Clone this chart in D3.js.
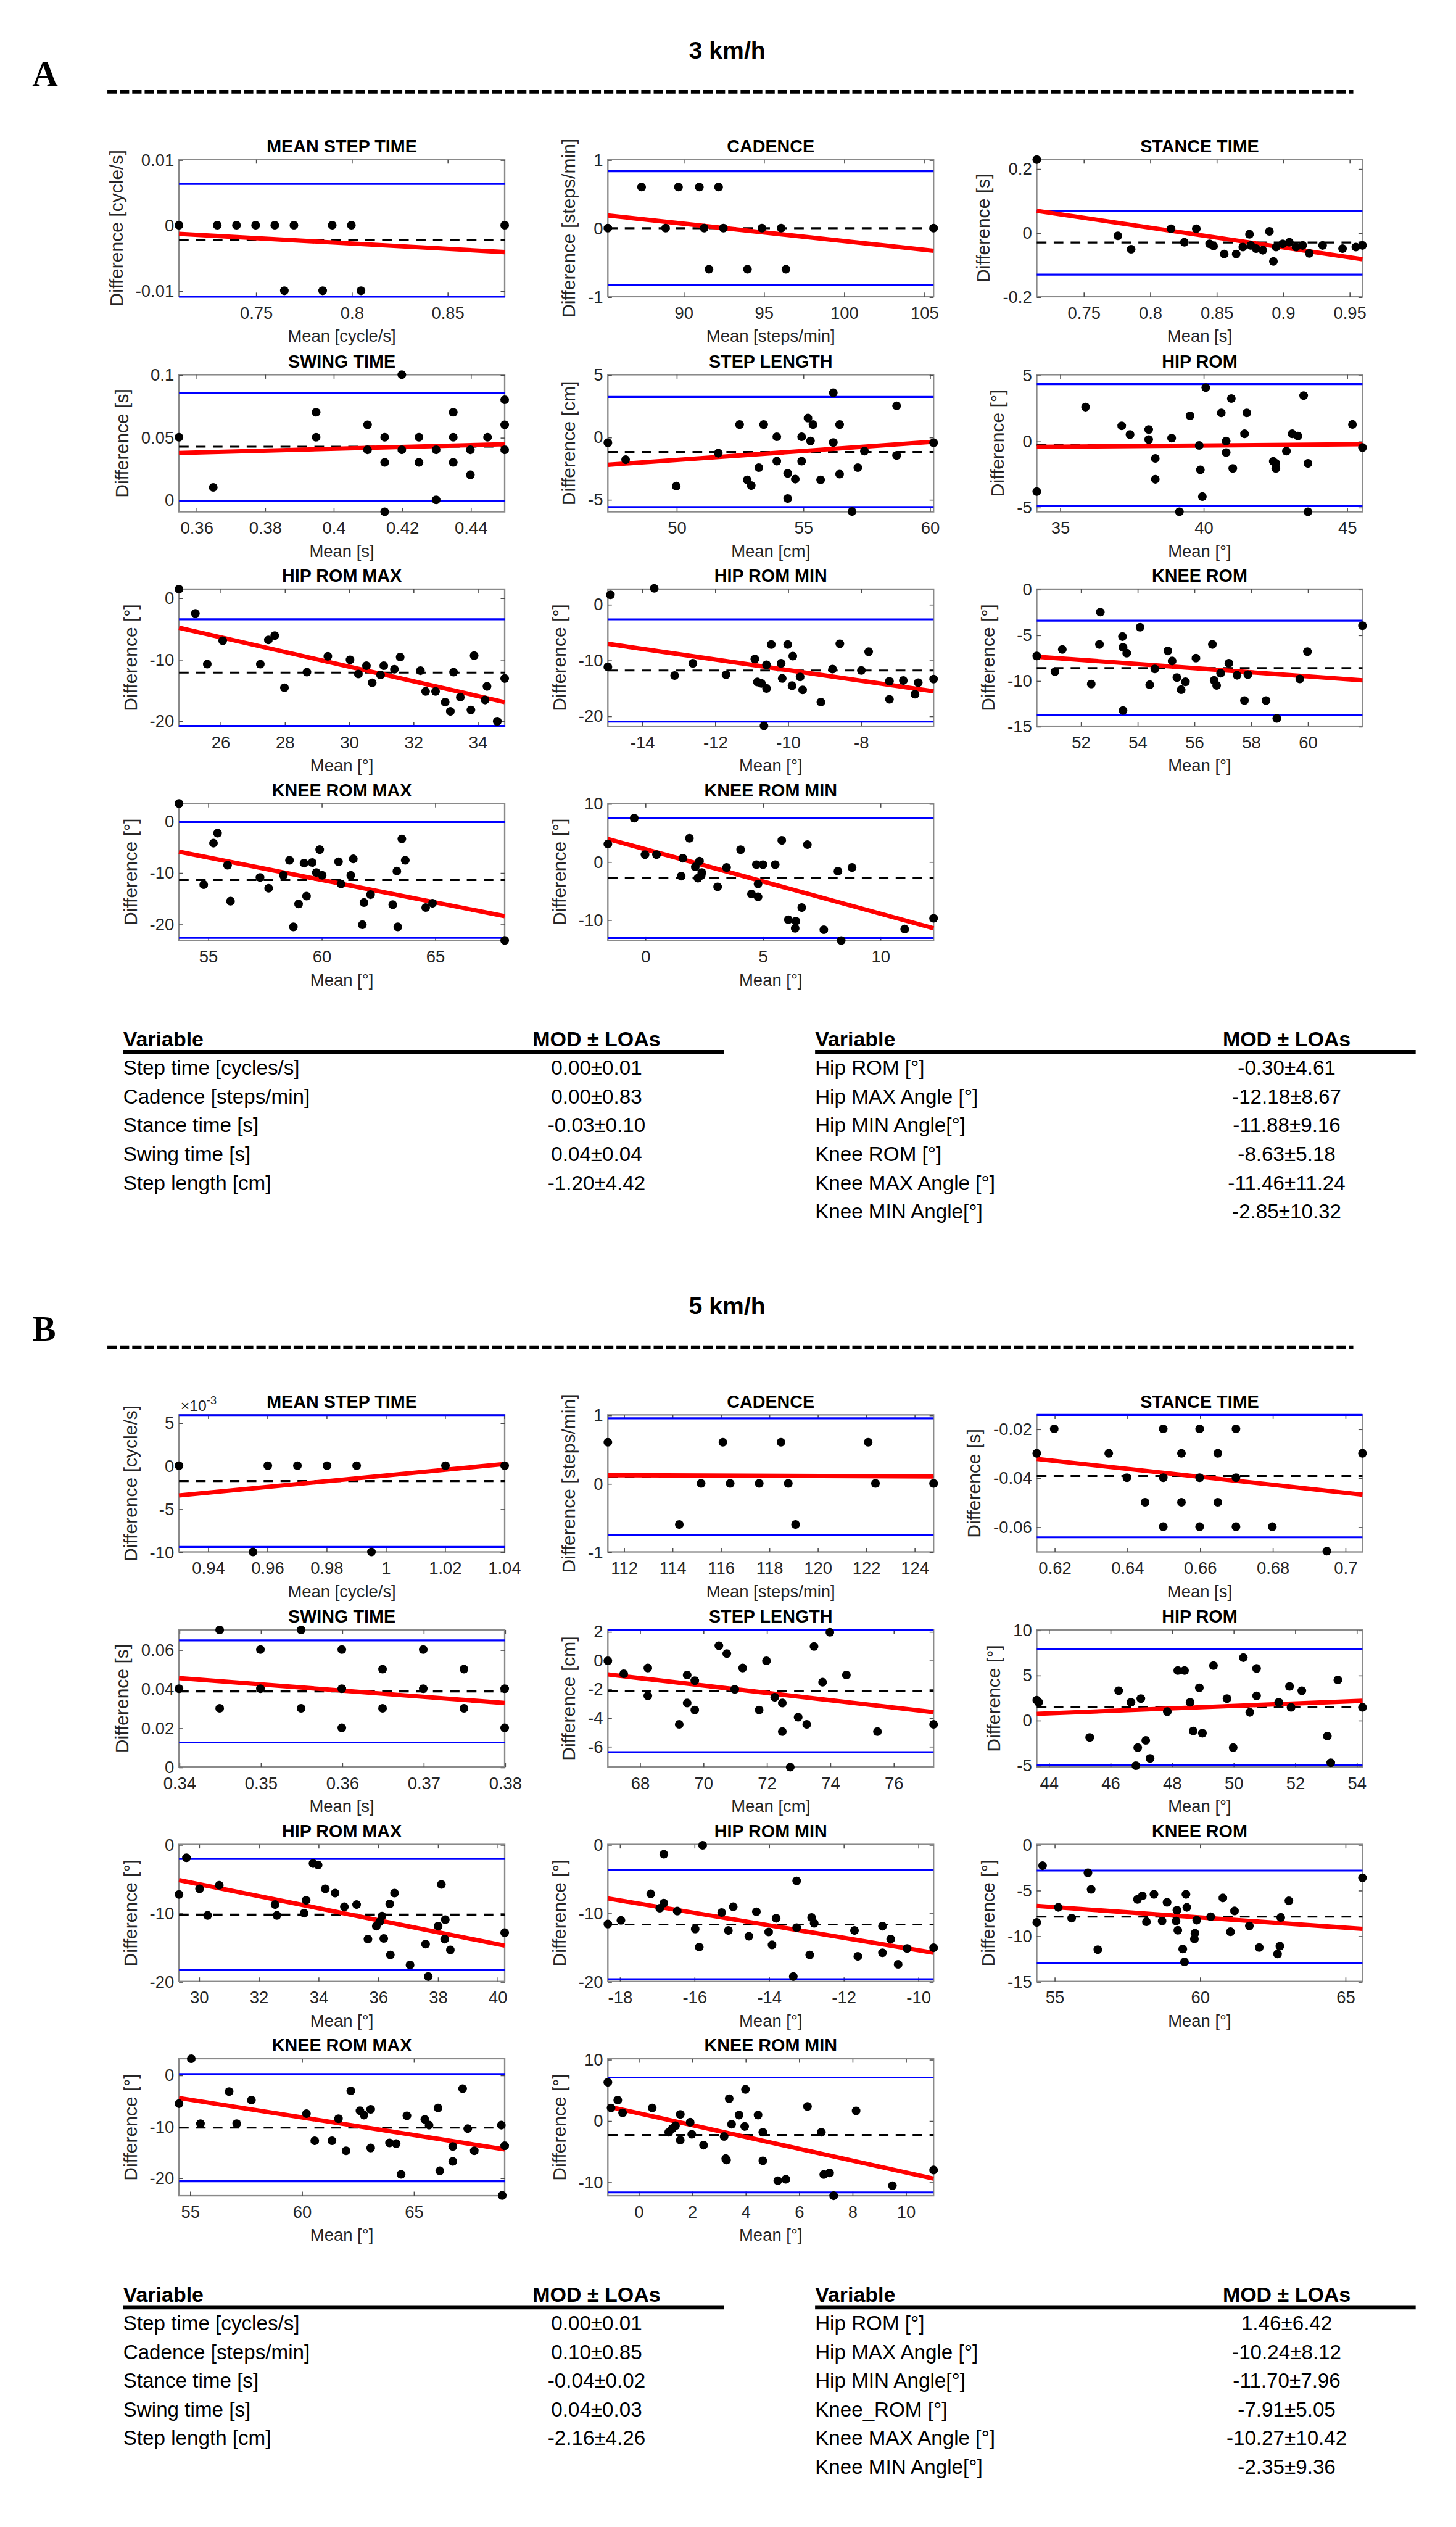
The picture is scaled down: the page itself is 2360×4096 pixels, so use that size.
<!DOCTYPE html>
<html>
<head>
<meta charset="utf-8">
<script src="https://cdn.jsdelivr.net/npm/d3@7.9.0/dist/d3.min.js"></script>
<style>
  html, body { margin: 0; padding: 0; background: #fff; }
  svg { display: block; }
  text { font-family: "Liberation Sans", Arial, Helvetica, sans-serif; }
</style>
</head>
<body>
<svg id="fig"></svg>
<script>
// ---------- shared labels ----------
const titles = ['MEAN STEP TIME', 'CADENCE', 'STANCE TIME', 'SWING TIME', 'STEP LENGTH', 'HIP ROM',
  'HIP ROM MAX', 'HIP ROM MIN', 'KNEE ROM', 'KNEE ROM MAX', 'KNEE ROM MIN'];
const xLabels = ['Mean [cycle/s]', 'Mean [steps/min]', 'Mean [s]', 'Mean [s]', 'Mean [cm]', 'Mean [°]',
  'Mean [°]', 'Mean [°]', 'Mean [°]', 'Mean [°]', 'Mean [°]'];
const yLabels = ['Difference [cycle/s]', 'Difference [steps/min]', 'Difference [s]', 'Difference [s]', 'Difference [cm]', 'Difference [°]',
  'Difference [°]', 'Difference [°]', 'Difference [°]', 'Difference [°]', 'Difference [°]'];

// ---------- 3 km/h : points [mean, difference] ----------
const ptsA1 = [[0.71,0],[0.73,0],[0.74,0],[0.75,0],[0.76,0],[0.77,0],[0.79,0],[0.80,0],[0.88,0],[0.765,-0.01],[0.785,-0.01],[0.805,-0.01]];
const ptsA2 = [[87.4,0.6],[89.7,0.6],[91.0,0.6],[92.2,0.6],[85.3,0],[88.9,0],[91.3,0],[92.5,0],[94.9,0],[96.1,0],[105.6,0],[91.6,-0.6],[94.0,-0.6],[96.4,-0.6]];
const ptsA3 = [[0.715,0.228],[0.776,-0.01],[0.786,-0.052],[0.816,0.012],[0.826,-0.03],[0.835,0.012],[0.845,-0.035],[0.848,-0.042],[0.856,-0.067],[0.865,-0.067],[0.87,-0.045],[0.875,-0.005],[0.876,-0.04],[0.88,-0.05],[0.885,-0.055],[0.89,0.004],[0.893,-0.09],[0.895,-0.045],[0.9,-0.035],[0.905,-0.03],[0.91,-0.045],[0.915,-0.04],[0.92,-0.065],[0.93,-0.04],[0.945,-0.05],[0.955,-0.045],[0.96,-0.04]];
const ptsA4 = [[0.355,0.05],[0.365,0.01],[0.395,0.07],[0.395,0.05],[0.41,0.06],[0.41,0.04],[0.415,0.05],[0.415,0.03],[0.415,-0.0095],[0.42,0.1],[0.42,0.04],[0.425,0.05],[0.425,0.03],[0.43,0.04],[0.43,0.0],[0.435,0.07],[0.435,0.05],[0.435,0.03],[0.44,0.04],[0.44,0.02],[0.445,0.05],[0.45,0.08],[0.45,0.06],[0.45,0.04]];
const ptsA5 = [[47.3,-0.46],[48.0,-1.82],[50.0,-3.94],[51.66,-1.3],[52.5,1.0],[52.8,-3.44],[52.96,-3.9],[53.26,-2.46],[53.45,1.0],[53.97,0.02],[53.97,-1.94],[54.4,-2.92],[54.4,-4.94],[54.7,-3.38],[54.95,0.02],[54.95,-1.94],[55.2,1.52],[55.3,-0.32],[55.4,1.0],[55.7,-3.44],[56.2,3.55],[56.2,-0.44],[56.45,1.0],[56.45,-2.98],[56.94,-5.98],[57.17,-2.46],[57.43,-1.13],[58.7,2.5],[58.7,-1.48],[60.16,-0.46]];
const ptsA6 = [[34.2,-3.82],[35.9,2.57],[37.16,1.15],[37.45,0.49],[38.1,0.87],[38.1,0.11],[38.33,-1.31],[38.33,-2.89],[38.9,0.22],[39.17,-5.35],[39.54,1.91],[39.86,-0.33],[39.9,-2.18],[39.97,-4.2],[40.09,4.04],[40.63,2.13],[40.8,0],[40.8,-0.87],[40.98,3.22],[41.03,-2.07],[41.44,0.55],[41.52,2.13],[42.44,-1.53],[42.53,-1.69],[42.53,-2.07],[42.9,-0.76],[43.1,0.55],[43.3,0.38],[43.5,3.44],[43.65,-1.69],[43.65,-5.35],[45.2,1.26],[45.55,-0.49]];
const ptsA7 = [[24.72,1.4],[25.23,-2.56],[25.6,-10.8],[26.08,-6.98],[27.25,-10.8],[27.5,-6.86],[27.7,-6.16],[28.0,-14.65],[28.7,-12.1],[29.35,-9.53],[30.04,-10.1],[30.3,-12.4],[30.55,-11.05],[30.73,-13.84],[30.99,-12.56],[31.09,-11.05],[31.42,-11.63],[31.6,-9.65],[32.23,-11.86],[32.39,-15.23],[32.7,-15.23],[33.0,-16.98],[33.16,-18.49],[33.26,-12.1],[33.47,-16.16],[33.8,-18.26],[33.9,-9.42],[34.24,-16.63],[34.3,-14.42],[34.62,-20.1],[34.85,-13.14]];
const ptsA8 = [[-14.93,-11.23],[-14.86,1.67],[-13.66,2.83],[-13.1,-12.78],[-12.6,-10.59],[-11.69,-12.65],[-10.9,-9.82],[-10.83,-13.94],[-10.72,-14.2],[-10.58,-10.85],[-10.58,-15.1],[-10.45,-7.23],[-10.18,-10.59],[-10.15,-13.3],[-10.0,-7.23],[-9.86,-9.3],[-9.88,-14.6],[-9.66,-13.04],[-9.59,-15.36],[-9.09,-17.55],[-8.77,-11.62],[-8.57,-7.1],[-7.98,-11.88],[-7.78,-8.52],[-7.21,-13.81],[-7.21,-17.04],[-6.83,-13.68],[-6.51,-16.13],[-6.42,-14.07],[-6.0,-13.42],[-10.65,-21.8]];
const ptsA9 = [[50.46,-7.31],[51.1,-9.04],[51.36,-6.6],[52.38,-10.38],[52.7,-2.52],[52.67,-6.05],[53.48,-5.19],[53.5,-6.37],[53.63,-7.0],[53.5,-13.29],[54.1,-4.17],[54.44,-10.46],[54.62,-8.73],[55.08,-6.76],[55.23,-7.86],[55.4,-9.67],[55.55,-11.0],[55.7,-10.14],[56.07,-7.55],[56.65,-6.05],[56.71,-9.98],[56.8,-10.53],[56.94,-9.2],[57.23,-8.1],[57.52,-9.43],[57.78,-12.19],[57.9,-9.36],[58.54,-12.19],[58.92,-14.15],[59.73,-9.83],[60.0,-6.84],[61.94,-4.0]];
const ptsA10 = [[53.73,3.39],[54.82,-12.36],[55.25,-4.3],[55.43,-2.36],[55.87,-8.6],[56.0,-15.56],[57.3,-10.97],[57.68,-13.05],[58.33,-10.55],[58.6,-7.64],[58.77,-20.56],[59.0,-16.1],[59.24,-8.19],[59.35,-14.58],[59.6,-8.06],[59.78,-10.0],[59.93,-5.56],[60.04,-10.55],[60.76,-7.92],[60.87,-12.22],[61.3,-10.55],[61.41,-7.36],[61.81,-20.14],[61.88,-15.83],[62.17,-14.3],[63.15,-16.25],[63.33,-9.72],[63.37,-20.56],[63.55,-3.47],[63.7,-7.64],[64.6,-16.8],[64.9,-15.97],[68.08,-23.19]];
const ptsA11 = [[-1.58,3.03],[-0.46,7.46],[0,1.18],[0.49,1.18],[1.61,0.57],[1.54,-2.51],[1.89,4.01],[2.14,-0.91],[2.32,0.07],[2.39,-2.39],[2.25,-2.88],[2.42,-1.9],[3.09,-4.36],[3.47,-1.03],[4.07,2.04],[4.53,-5.59],[4.74,-0.54],[4.81,-3.87],[4.81,-6.08],[5.02,-0.54],[5.54,-0.54],[5.82,3.65],[6.1,-10.02],[6.42,-10.27],[6.39,-11.5],[6.67,-7.93],[6.91,2.91],[7.61,-11.75],[8.21,-1.65],[8.35,-13.6],[8.81,-1.03],[11.05,-11.63],[12.28,-9.78]];

const aPoints = [ptsA1, ptsA2, ptsA3, ptsA4, ptsA5, ptsA6, ptsA7, ptsA8, ptsA9, ptsA10, ptsA11];
const aXTicks = [[0.75,0.8,0.85],[90,95,100,105],[0.75,0.8,0.85,0.9,0.95],[0.36,0.38,0.4,0.42,0.44],[50,55,60],[35,40,45],
  [26,28,30,32,34],[-14,-12,-10,-8],[52,54,56,58,60],[55,60,65],[0,5,10]];
const aYTicks = [[-0.01,0,0.01],[-1,0,1],[-0.2,0,0.2],[0,0.05,0.1],[-5,0,5],[-5,0,5],
  [-20,-10,0],[-20,-10,0],[-15,-10,-5,0],[-20,-10,0],[-10,0,10]];
const aYDomain = [[-0.0109,0.01],[-1,1],[-0.2,0.228],[-0.0095,0.1],[-6,5],[-5.35,5.02],
  [-20.9,1.4],[-21.87,2.7],[-15,0],[-23.2,3.4],[-13.6,10]];
// [mean difference, upper LOA, lower LOA]
const aLines = [[-0.0023,0.0063,-0.0109],[0,0.83,-0.83],[-0.031,0.068,-0.131],[0.0425,0.0852,-0.0008],[-1.20,3.22,-5.62],[-0.30,4.31,-4.91],
  [-12.18,-3.51,-20.85],[-11.88,-2.72,-21.04],[-8.63,-3.45,-13.81],[-11.46,-0.22,-22.70],[-2.85,7.47,-13.17]];
// regression line value at left and right end of the x range
const aFit = [[-0.00132,-0.0041],[0.185,-0.33],[0.068,-0.083],[0.0375,0.0445],[-2.23,-0.38],[-0.44,-0.24],
  [-4.88,-16.98],[-7.1,-15.62],[-7.39,-9.98],[-5.97,-18.47],[3.89,-11.5]];
const aExp = [0,0,0,0,0,0,0,0,0,0,0];

// ---------- 5 km/h ----------
const ptsB1 = [[0.9303,0],[0.9553,-0.01],[0.9603,0],[0.9703,0],[0.9803,0],[0.9903,0],[0.9953,-0.01],[1.0203,0],[1.0403,0]];
const ptsB2 = [[111.35,0.6],[114.3,-0.6],[115.2,0],[116.1,0.6],[116.4,0],[117.6,0],[118.5,0.6],[118.8,0],[119.1,-0.6],[122.1,0.6],[122.4,0],[124.8,0]];
const ptsB3 = [[0.62,-0.02],[0.65,-0.02],[0.66,-0.02],[0.67,-0.02],[0.6152,-0.03],[0.635,-0.03],[0.655,-0.03],[0.665,-0.03],[0.7048,-0.03],[0.64,-0.04],[0.65,-0.04],[0.66,-0.04],[0.67,-0.04],[0.645,-0.05],[0.655,-0.05],[0.665,-0.05],[0.65,-0.06],[0.66,-0.06],[0.67,-0.06],[0.68,-0.06],[0.695,-0.07]];
const ptsB4 = [[0.345,0.07],[0.355,0.07],[0.35,0.06],[0.36,0.06],[0.37,0.06],[0.365,0.05],[0.375,0.05],[0.34,0.04],[0.35,0.04],[0.36,0.04],[0.37,0.04],[0.38,0.04],[0.345,0.03],[0.355,0.03],[0.365,0.03],[0.375,0.03],[0.36,0.02],[0.38,0.02]];
const ptsB5 = [[67.0,-0.05],[67.5,-0.95],[68.26,-0.55],[68.26,-2.49],[69.25,-4.48],[69.5,-1.04],[69.5,-2.99],[69.74,-1.44],[69.74,-3.48],[70.5,1.0],[70.75,0.45],[71.0,-2.04],[71.25,-0.55],[71.77,-3.48],[72.0,-0.05],[72.26,-2.59],[72.5,-2.99],[72.5,-4.98],[72.75,-7.46],[73.0,-3.98],[73.27,-4.48],[73.5,0.95],[73.77,-1.54],[74.0,1.94],[74.52,-1.04],[75.5,-4.98],[77.27,-4.48]];
const ptsB6 = [[43.62,2.22],[43.68,1.98],[45.34,-1.93],[46.28,3.26],[46.68,1.98],[46.9,-3.05],[46.84,-5.05],[47.0,2.38],[47.16,-2.25],[47.3,-4.25],[47.86,0.94],[48.2,5.5],[48.42,5.5],[48.6,1.98],[48.7,-1.21],[48.9,3.58],[49.0,-1.45],[49.36,6.05],[49.8,2.38],[50.0,-3.05],[50.33,6.93],[50.54,0.86],[50.76,2.7],[50.76,5.73],[51.48,1.98],[51.83,3.74],[51.88,1.42],[52.23,3.26],[53.06,-1.77],[53.17,-4.73],[53.4,4.46],[54.2,1.42]];
const ptsB7 = [[29.34,-7.31],[29.59,-1.95],[30.03,-6.47],[30.3,-10.36],[30.69,-5.95],[32.56,-8.78],[32.62,-10.36],[33.53,-10.04],[33.6,-8.15],[33.83,-2.79],[34.0,-3.0],[34.24,-6.47],[34.57,-7.1],[34.88,-9.1],[35.29,-8.78],[35.67,-13.82],[35.95,-11.93],[36.06,-11.3],[36.14,-10.46],[36.2,-13.72],[36.4,-8.68],[36.42,-16.13],[36.56,-7.1],[37.08,-17.6],[37.6,-14.56],[37.69,-19.29],[38.02,-11.93],[38.13,-5.84],[38.24,-13.82],[38.26,-10.99],[38.43,-15.4],[40.25,-12.88]];
const ptsB8 = [[-18.31,-11.62],[-17.96,-11.09],[-17.16,-7.21],[-16.81,-1.43],[-16.81,-8.57],[-16.92,-9.31],[-16.45,-9.73],[-15.97,-12.35],[-15.86,-14.98],[-15.77,-0.13],[-15.26,-9.94],[-15.08,-12.56],[-14.95,-9.1],[-14.53,-13.4],[-14.33,-9.83],[-14.0,-12.77],[-13.91,-14.66],[-13.8,-10.78],[-13.34,-19.29],[-13.25,-5.32],[-13.25,-12.14],[-12.9,-16.13],[-12.85,-10.67],[-12.78,-11.51],[-11.7,-12.56],[-11.61,-16.34],[-10.95,-15.82],[-10.95,-11.93],[-10.73,-13.82],[-10.53,-17.5],[-10.29,-15.19],[-9.58,-15.08]];
const ptsB9 = [[54.4,-8.54],[54.6,-2.33],[55.14,-6.89],[55.6,-8.07],[56.16,-3.11],[56.27,-4.92],[56.5,-11.53],[57.86,-6.02],[58.03,-5.63],[58.17,-8.46],[58.43,-5.47],[58.71,-8.38],[58.88,-6.34],[59.19,-8.38],[59.22,-7.2],[59.25,-9.4],[59.42,-11.45],[59.48,-12.86],[59.53,-5.47],[59.56,-6.89],[59.82,-10.35],[59.84,-9.72],[59.9,-8.3],[60.38,-7.91],[60.8,-5.86],[61.06,-9.56],[61.2,-7.28],[61.71,-8.93],[62.05,-11.29],[62.68,-12.0],[62.76,-11.13],[62.79,-7.99],[63.07,-6.18],[65.6,-3.66]];
const ptsB10 = [[54.52,-5.6],[55.07,3.14],[55.48,-9.49],[56.76,-3.24],[57.1,-9.49],[57.76,-4.9],[60.22,-7.54],[60.59,-12.82],[61.36,-12.82],[61.65,-8.52],[61.99,-14.77],[62.2,-3.1],[62.61,-6.98],[62.79,-7.82],[63.09,-6.71],[63.09,-14.21],[63.93,-13.23],[64.23,-13.37],[64.45,-19.35],[64.71,-7.96],[65.51,-8.66],[65.7,-9.77],[66.1,-6.43],[66.18,-18.65],[66.76,-16.84],[66.76,-13.93],[67.2,-2.68],[67.43,-10.46],[67.72,-14.77],[68.93,-9.77],[69.08,-13.79],[68.97,-23.45]];
const ptsB11 = [[-1.14,6.24],[-1.02,2.06],[-0.77,3.33],[-0.59,1.25],[0.52,2.06],[1.14,-1.92],[1.27,-1.31],[1.39,-0.85],[1.57,1.0],[1.57,-3.2],[1.94,-0.27],[2.0,-2.24],[2.44,-4.01],[3.27,-6.2],[3.3,-6.43],[3.4,3.57],[3.49,-0.61],[3.21,-2.59],[3.77,0.89],[3.98,-0.97],[4.01,5.08],[4.48,0.89],[4.66,-1.92],[4.66,-6.56],[5.22,-9.8],[5.52,-9.57],[6.33,2.29],[6.85,-1.92],[6.94,-8.79],[7.16,-8.53],[7.31,-12.25],[8.15,1.58],[9.51,-10.62],[11.05,-8.06]];

const bPoints = [ptsB1, ptsB2, ptsB3, ptsB4, ptsB5, ptsB6, ptsB7, ptsB8, ptsB9, ptsB10, ptsB11];
const bXTicks = [[0.94,0.96,0.98,1,1.02,1.04],[112,114,116,118,120,122,124],[0.62,0.64,0.66,0.68,0.7],[0.34,0.35,0.36,0.37,0.38],[68,70,72,74,76],[44,46,48,50,52,54],
  [30,32,34,36,38,40],[-18,-16,-14,-12,-10],[55,60,65],[55,60,65],[0,2,4,6,8,10]];
const bYTicks = [[-0.01,-0.005,0,0.005],[-1,0,1],[-0.06,-0.04,-0.02],[0,0.02,0.04,0.06],[-6,-4,-2,0,2],[-5,0,5,10],
  [-20,-10,0],[-20,-10,0],[-15,-10,-5,0],[-20,-10,0],[-10,0,10]];
const bYDomain = [[-0.01,0.0059],[-1,1],[-0.0703,-0.0143],[0,0.07],[-7.45,2.1],[-5.2,10],
  [-20,0],[-20,0],[-15,0],[-23.5,3.15],[-12.25,10.08]];
const bLines = [[-0.00178,0.00587,-0.00942],[0.10,0.95,-0.75],[-0.0393,-0.0143,-0.0643],[0.0386,0.0647,0.0125],[-2.16,2.10,-6.42],[1.46,7.88,-4.96],
  [-10.24,-2.12,-18.36],[-11.70,-3.74,-19.66],[-7.91,-2.86,-12.96],[-10.27,0.15,-20.69],[-2.35,7.01,-11.71]];
const bFit = [[-0.00345,0.0002],[0.12,0.10],[-0.0323,-0.0469],[0.0454,0.0327],[-1.0,-3.63],[0.7,2.14],
  [-5.21,-14.77],[-7.88,-15.82],[-6.73,-9.25],[-4.49,-14.49],[2.29,-9.46]];
const bExp = [-3,0,0,0,0,0,0,0,0,0,0];

// ---------- tables ----------
const tableVarsLeft = ['Step time [cycles/s]', 'Cadence [steps/min]', 'Stance time [s]', 'Swing time [s]', 'Step length [cm]'];
const tableVarsRightA = ['Hip ROM [°]', 'Hip MAX Angle [°]', 'Hip MIN Angle[°]', 'Knee ROM [°]', 'Knee MAX Angle [°]', 'Knee MIN Angle[°]'];
const tableVarsRightB = ['Hip ROM [°]', 'Hip MAX Angle [°]', 'Hip MIN Angle[°]', 'Knee_ROM [°]', 'Knee MAX Angle [°]', 'Knee MIN Angle[°]'];
const modLeftA = ['0.00±0.01', '0.00±0.83', '-0.03±0.10', '0.04±0.04', '-1.20±4.42'];
const modRightA = ['-0.30±4.61', '-12.18±8.67', '-11.88±9.16', '-8.63±5.18', '-11.46±11.24', '-2.85±10.32'];
const modLeftB = ['0.00±0.01', '0.10±0.85', '-0.04±0.02', '0.04±0.03', '-2.16±4.26'];
const modRightB = ['1.46±6.42', '-10.24±8.12', '-11.70±7.96', '-7.91±5.05', '-10.27±10.42', '-2.35±9.36'];

// ---------- layout (in units of the 903 px wide preview) ----------
const VW = 903, VH = 903 * 4096 / 2360;
const PW = 202, PH = 85;
const colLeft = [111, 377, 643];
const rowTop = [99, 232.4, 365.4, 498.3];
const SHIFT_B = 778.5;

const svg = d3.select('#fig')
  .attr('width', 2360)
  .attr('height', 4096)
  .attr('viewBox', `0 0 ${VW} ${VH}`);

svg.append('rect').attr('width', VW).attr('height', VH).attr('fill', '#fff');

function fmtNum(d) {
  return String(+d.toFixed(6));
}

function styleAxis(sel) {
  sel.select('.domain').remove();
  sel.attr('font-size', null).attr('font-family', null);
  sel.selectAll('line').attr('stroke', '#4d4d4d').attr('stroke-width', 0.6);
  sel.selectAll('text').attr('fill', '#262626').style('font-size', '10.5px');
}

function drawPanel(root, left, top, c) {
  const x = d3.scaleLinear().domain(d3.extent(c.points, d => d[0])).range([0, PW]);
  const y = d3.scaleLinear().domain(c.yDomain).range([PH, 0]);
  const g = root.append('g').attr('transform', `translate(${left},${top})`);

  g.append('rect')
    .attr('width', PW).attr('height', PH)
    .attr('fill', 'none').attr('stroke', '#8a8a8a').attr('stroke-width', 0.9);

  const yfmt = c.exp ? d => String(Math.round(d * Math.pow(10, -c.exp))) : fmtNum;

  g.append('g').attr('transform', `translate(0,${PH})`)
    .call(d3.axisBottom(x).tickValues(c.xTicks).tickSize(-2.5).tickPadding(6.2).tickFormat(fmtNum))
    .call(styleAxis);
  g.append('g')
    .call(d3.axisTop(x).tickValues(c.xTicks).tickSize(-2.5).tickFormat(''))
    .call(styleAxis);
  const yAxis = g.append('g')
    .call(d3.axisLeft(y).tickValues(c.yTicks).tickSize(-2.5).tickPadding(3).tickFormat(yfmt))
    .call(styleAxis);
  g.append('g').attr('transform', `translate(${PW},0)`)
    .call(d3.axisRight(y).tickValues(c.yTicks).tickSize(-2.5).tickFormat(''))
    .call(styleAxis);

  const [mean, upper, lower] = c.lines;
  g.selectAll('line.loa')
    .data([upper, lower])
    .join('line')
    .attr('class', 'loa')
    .attr('x1', 0).attr('x2', PW)
    .attr('y1', d => y(d)).attr('y2', d => y(d))
    .attr('stroke', '#0000ff').attr('stroke-width', 1.2);

  g.append('line')
    .attr('x1', 0).attr('x2', PW)
    .attr('y1', y(mean)).attr('y2', y(mean))
    .attr('stroke', '#000').attr('stroke-width', 1.2)
    .attr('stroke-dasharray', '6 4.5');

  g.append('line')
    .attr('x1', 0).attr('x2', PW)
    .attr('y1', y(c.fit[0])).attr('y2', y(c.fit[1]))
    .attr('stroke', '#ff0000').attr('stroke-width', 2.7);

  g.selectAll('circle')
    .data(c.points)
    .join('circle')
    .attr('cx', d => x(d[0]))
    .attr('cy', d => y(d[1]))
    .attr('r', 2.7)
    .attr('fill', '#000');

  g.append('text')
    .attr('x', PW / 2).attr('y', -4.5)
    .attr('text-anchor', 'middle')
    .style('font-size', '11px').style('font-weight', 'bold')
    .attr('fill', '#000')
    .text(c.title);

  g.append('text')
    .attr('x', PW / 2).attr('y', PH + 28)
    .attr('text-anchor', 'middle')
    .style('font-size', '10.5px')
    .attr('fill', '#262626')
    .text(c.xLabel);

  const bb = yAxis.node().getBBox();
  g.append('text')
    .attr('transform', `translate(${bb.x - 8},${PH / 2}) rotate(-90)`)
    .attr('text-anchor', 'middle')
    .style('font-size', '11.5px')
    .attr('fill', '#262626')
    .text(c.yLabel);

  if (c.exp) {
    const t = g.append('text')
      .attr('x', 1).attr('y', -2.5)
      .style('font-size', '9.5px')
      .attr('fill', '#262626')
      .text('×10');
    t.append('tspan').attr('dy', -4).style('font-size', '7px').text(String(c.exp));
  }
}

function drawTable(g, x0, x1, valX, yHead, vars, vals) {
  g.append('text').attr('x', x0).attr('y', yHead)
    .style('font-size', '13px').style('font-weight', 'bold').text('Variable');
  g.append('text').attr('x', valX).attr('y', yHead).attr('text-anchor', 'middle')
    .style('font-size', '13px').style('font-weight', 'bold').text('MOD ± LOAs');
  g.append('line')
    .attr('x1', x0).attr('x2', x1)
    .attr('y1', yHead + 3.5).attr('y2', yHead + 3.5)
    .attr('stroke', '#000').attr('stroke-width', 2.6);
  vars.forEach((v, i) => {
    const yy = yHead + 17.7 + 17.8 * i;
    g.append('text').attr('x', x0).attr('y', yy).style('font-size', '12.7px').text(v);
    g.append('text').attr('x', valX).attr('y', yy).attr('text-anchor', 'middle')
      .style('font-size', '12.7px').text(vals[i]);
  });
}

function drawSection(offset, letter, speed, set, tables) {
  const g = svg.append('g').attr('transform', `translate(0,${offset})`);

  g.append('text')
    .attr('x', 20).attr('y', 53)
    .style('font-family', '"Liberation Serif", "Times New Roman", serif')
    .style('font-size', '22px').style('font-weight', 'bold')
    .text(letter);

  g.append('text')
    .attr('x', 451).attr('y', 36.5)
    .attr('text-anchor', 'middle')
    .style('font-size', '15px').style('font-weight', 'bold')
    .text(speed);

  g.append('line')
    .attr('x1', 66.6).attr('x2', 839.3)
    .attr('y1', 57).attr('y2', 57)
    .attr('stroke', '#000').attr('stroke-width', 2.2)
    .attr('stroke-dasharray', '5.8 1.9');

  set.points.forEach((pts, i) => {
    drawPanel(g, colLeft[i % 3], rowTop[Math.floor(i / 3)], {
      title: titles[i], xLabel: xLabels[i], yLabel: yLabels[i],
      points: pts, xTicks: set.xTicks[i], yTicks: set.yTicks[i],
      yDomain: set.yDomain[i], lines: set.lines[i], fit: set.fit[i], exp: set.exp[i]
    });
  });

  drawTable(g, 76.4, 449, 370, 649, tableVarsLeft, tables.left);
  drawTable(g, 505.5, 878, 798, 649, tables.rightVars, tables.right);
}

drawSection(0, 'A', '3 km/h',
  { points: aPoints, xTicks: aXTicks, yTicks: aYTicks, yDomain: aYDomain, lines: aLines, fit: aFit, exp: aExp },
  { left: modLeftA, right: modRightA, rightVars: tableVarsRightA });

drawSection(SHIFT_B, 'B', '5 km/h',
  { points: bPoints, xTicks: bXTicks, yTicks: bYTicks, yDomain: bYDomain, lines: bLines, fit: bFit, exp: bExp },
  { left: modLeftB, right: modRightB, rightVars: tableVarsRightB });
</script>
</body>
</html>
